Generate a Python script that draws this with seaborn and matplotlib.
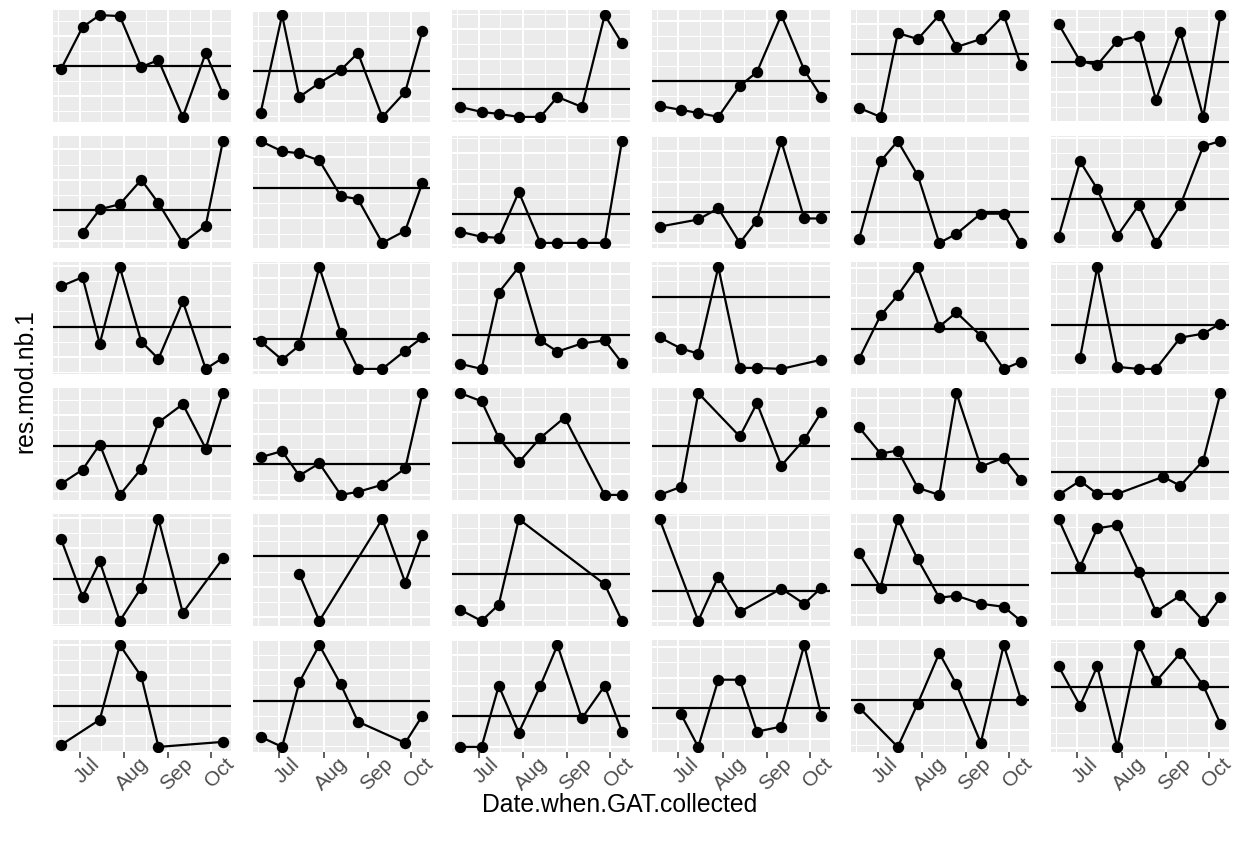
import numpy as np
import pandas as pd
import matplotlib
matplotlib.use("Agg")
import matplotlib.pyplot as plt
import matplotlib.dates as mdates
import matplotlib.transforms as mtransforms
from matplotlib.ticker import MaxNLocator, AutoMinorLocator, FixedLocator
import seaborn as sns

# ---------------- data ----------------
SAMPLE_DATES = ["2016-06-18", "2016-07-03", "2016-07-15", "2016-07-29", "2016-08-13",
                "2016-08-25", "2016-09-11", "2016-09-27", "2016-10-09", "2016-08-30"]
ALL9 = [0, 1, 2, 3, 4, 5, 6, 7, 8]

# date indices per panel (row-major, 6 x 6)
panel_dates = [
    ALL9, ALL9, ALL9, ALL9, ALL9, ALL9,
    [1, 2, 3, 4, 5, 6, 7, 8], ALL9, ALL9, [0, 2, 3, 4, 5, 6, 7, 8], ALL9, ALL9,
    ALL9, ALL9, ALL9, [0, 1, 2, 3, 4, 5, 6, 8], ALL9, [1, 2, 3, 4, 5, 6, 7, 8],
    ALL9, ALL9, [0, 1, 2, 3, 4, 9, 7, 8], [0, 1, 2, 4, 5, 6, 7, 8], ALL9, [0, 1, 2, 3, 9, 6, 7, 8],
    [0, 1, 2, 3, 4, 5, 6, 8], [2, 3, 6, 7, 8], [0, 1, 2, 3, 7, 8], [0, 2, 3, 4, 6, 7, 8], ALL9, ALL9,
    [0, 2, 3, 4, 5, 8], [0, 1, 2, 3, 4, 5, 7, 8], ALL9, [1, 2, 3, 4, 5, 6, 7, 8], [0, 2, 3, 4, 5, 6, 7, 8], ALL9,
]

# residuals per panel (row-major)
panel_values = [
    [-0.15, 1.95, 2.55, 2.5, -0.05, 0.3, -2.55, 0.65, -1.4],
    [-2.1, 2.8, -1.3, -0.6, 0.05, 0.9, -2.3, -1.05, 2.0],
    [-0.9, -1.15, -1.25, -1.4, -1.4, -0.4, -0.9, 3.7, 2.3],
    [-1.25, -1.45, -1.6, -1.8, -0.25, 0.45, 3.3, 0.55, -0.8],
    [-2.7, -3.15, 1.05, 0.75, 1.95, 0.35, 0.75, 1.95, -0.55],
    [1.9, 0.05, -0.15, 1.05, 1.3, -1.9, 1.5, -2.75, 2.35],

    [-1.1, 0.05, 0.3, 1.5, 0.35, -1.6, -0.75, 3.4],
    [2.3, 1.8, 1.7, 1.35, -0.4, -0.55, -2.7, -2.1, 0.25],
    [-0.85, -1.1, -1.15, 1.1, -1.4, -1.4, -1.4, -1.4, 3.6],
    [-0.7, -0.35, 0.2, -1.5, -0.4, 3.5, -0.3, -0.3],
    [-1.35, 2.5, 3.5, 1.8, -1.55, -1.1, -0.1, -0.1, -1.55],
    [-1.85, 1.85, 0.5, -1.8, -0.3, -2.15, -0.3, 2.6, 2.85],

    [2.0, 2.45, -0.85, 2.95, -0.75, -1.6, 1.25, -2.1, -1.55],
    [-0.1, -1.0, -0.3, 3.55, 0.3, -1.45, -1.45, -0.55, 0.1],
    [-1.4, -1.65, 2.1, 3.35, -0.25, -0.8, -0.4, -0.25, -1.35],
    [-2.0, -2.55, -2.8, 1.45, -3.5, -3.5, -3.55, -3.1],
    [-1.5, 0.65, 1.65, 3.05, 0.1, 0.8, -0.35, -2.0, -1.65],
    [-1.65, 2.85, -2.1, -2.2, -2.2, -0.65, -0.45, 0.05],

    [-1.9, -1.2, 0.05, -2.45, -1.15, 1.15, 2.05, -0.15, 2.6],
    [0.35, 0.65, -0.55, 0.05, -1.5, -1.35, -1.0, -0.2, 3.5],
    [2.45, 2.05, 0.25, -0.95, 0.25, 1.25, -2.55, -2.55],
    [-2.45, -2.05, 2.6, 0.45, 2.1, -1.0, 0.3, 1.65],
    [1.55, 0.25, 0.4, -1.45, -1.8, 3.25, -0.4, 0.05, -1.05],
    [-1.15, -0.45, -1.1, -1.1, -0.25, -0.7, 0.55, 3.9],

    [1.95, -0.9, 0.85, -2.1, -0.45, 2.95, -1.7, 1.0],
    [-0.85, -3.2, 1.85, -1.3, 1.05],
    [-1.75, -2.3, -1.5, 2.7, -0.5, -2.3],
    [3.55, -1.5, 0.7, -1.05, 0.1, -0.65, 0.15],
    [1.55, -0.15, 3.25, 1.25, -0.65, -0.55, -0.95, -1.1, -1.8],
    [2.65, 0.3, 2.2, 2.35, 0.05, -1.9, -1.1, -2.35, -1.2],

    [-1.95, -0.7, 3.0, 1.45, -2.05, -1.8],
    [-1.8, -2.3, 0.9, 2.75, 0.8, -1.05, -2.1, -0.75],
    [-1.5, -1.5, 1.5, -0.8, 1.5, 3.5, -0.1, 1.5, -0.75],
    [-0.3, -1.9, 1.4, 1.4, -1.15, -0.9, 3.1, -0.4],
    [-0.4, -2.35, -0.2, 2.3, 0.75, -2.15, 2.7, 0.0],
    [1.05, -0.9, 1.05, -2.95, 2.1, 0.3, 1.7, 0.1, -1.8],
]

REF_LINE = 0.0
MONTH_TICKS = ["2016-07-01", "2016-08-01", "2016-09-01", "2016-10-01"]
MONTH_LABELS = ["Jul", "Aug", "Sep", "Oct"]
MINOR_TICKS = ["2016-06-16", "2016-07-16", "2016-08-16", "2016-09-16"]
X_TITLE = "Date.when.GAT.collected"
Y_TITLE = "res.mod.nb.1"

# ---------------- style ----------------
sns.set_theme(style="white")
plt.rcParams["font.family"] = ["Liberation Sans", "DejaVu Sans"]

W, H = 1239, 844
fig = plt.figure(figsize=(W / 100, H / 100), dpi=100)

dates = pd.to_datetime(SAMPLE_DATES)
dmin, dmax = mdates.date2num(dates.min()), mdates.date2num(dates.max())
pad = 0.05 * (dmax - dmin)
xlim = (dmin - pad, dmax + pad)

col_left0, col_pitch, pw = 53, 199.5, 178
row_top0, row_pitch, ph = 10, 126, 112

major_x = mdates.date2num(pd.to_datetime(MONTH_TICKS))
minor_x = mdates.date2num(pd.to_datetime(MINOR_TICKS))

for i in range(36):
    r, c = divmod(i, 6)
    left = col_left0 + c * col_pitch
    top = row_top0 + r * row_pitch
    ax = fig.add_axes([left / W, 1 - (top + ph) / H, pw / W, ph / H])
    ax.set_facecolor("#EBEBEB")
    df = pd.DataFrame({"date": dates[panel_dates[i]], "res": panel_values[i]})
    ax.axhline(REF_LINE, color="black", lw=1.6, zorder=2)
    sns.lineplot(data=df, x="date", y="res", ax=ax, color="black", lw=1.6,
                 marker="o", markersize=8.2, markeredgewidth=0, zorder=3)
    ax.set_xlim(xlim)
    vals = np.array(panel_values[i] + [REF_LINE])
    ypad = 0.05 * (vals.max() - vals.min())
    ax.set_ylim(vals.min() - ypad, vals.max() + ypad)

    ax.xaxis.set_major_locator(FixedLocator(major_x))
    ax.xaxis.set_minor_locator(FixedLocator(minor_x))
    ax.yaxis.set_major_locator(MaxNLocator(nbins=5))
    ax.yaxis.set_minor_locator(AutoMinorLocator(2))
    ax.grid(which="major", color="white", lw=1.5, zorder=0)
    ax.grid(which="minor", color="white", lw=0.75, zorder=0)
    ax.set_axisbelow(True)
    for s in ax.spines.values():
        s.set_visible(False)
    ax.set_xlabel("")
    ax.set_ylabel("")
    ax.tick_params(axis="y", which="both", left=False, labelleft=False)
    ax.tick_params(axis="x", which="minor", bottom=False)
    if r == 5:
        ax.set_xticklabels(MONTH_LABELS)
        ax.tick_params(axis="x", which="major", bottom=True, length=4, width=1.1,
                       color="#333333", labelsize=15, labelcolor="#4D4D4D", pad=0)
        offset = mtransforms.ScaledTranslation(8 / 100, 3 / 100, fig.dpi_scale_trans)
        for lab in ax.get_xticklabels():
            lab.set_rotation(45)
            lab.set_ha("center")
            lab.set_va("top")
            lab.set_transform(lab.get_transform() + offset)
    else:
        ax.tick_params(axis="x", which="both", bottom=False, labelbottom=False)

fig.text(620 / W, 1 - 805 / H, X_TITLE, ha="center", va="center", fontsize=17.8, color="black")
fig.text(25 / W, 1 - 381 / H, Y_TITLE, ha="center", va="center", rotation=90,
         fontsize=17.8, color="black")

fig.savefig("out.png", dpi=100, facecolor="white")
